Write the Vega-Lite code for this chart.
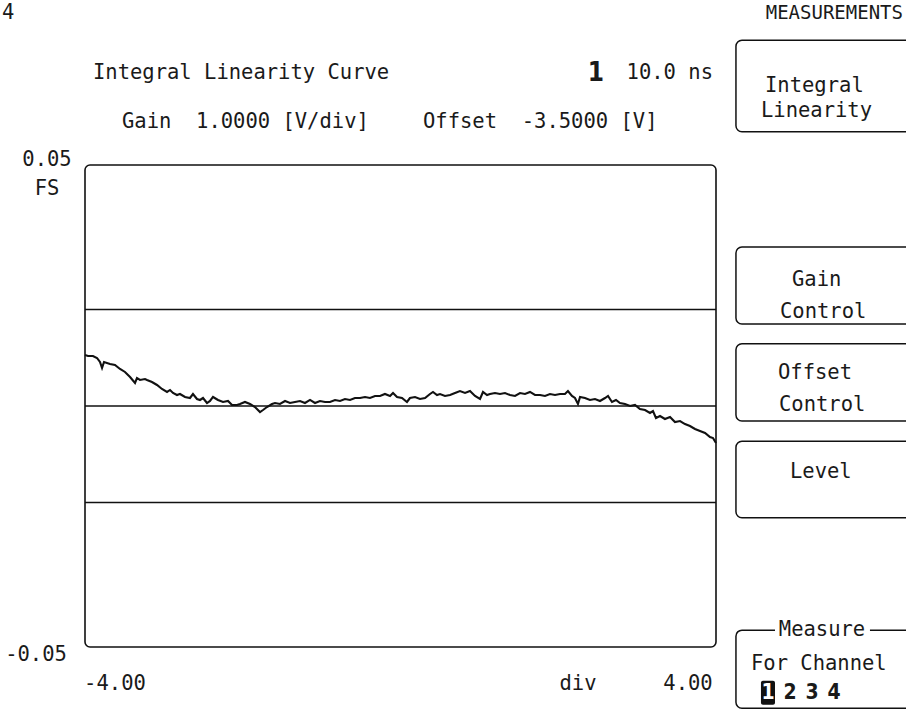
{
  "$schema": "https://vega.github.io/schema/vega-lite/v6.json",
  "autosize": {"type": "none"},
  "width": 631,
  "height": 482,
  "padding": {"left": 85, "top": 165, "right": 190, "bottom": 64},
  "background": "white",
  "data": {"values": [{}]},
  "config": {
    "view": {"stroke": "#111", "strokeWidth": 1.6, "cornerRadius": 5, "fill": "white"},
    "axis": {"disable": true},
    "text": {"font": "DejaVu Sans Mono", "fontSize": 20.5, "color": "#1a1a1a", "baseline": "middle"}
  },
  "layer": [
    {
      "mark": {"type": "rule", "color": "#111", "strokeWidth": 1.5},
      "encoding": {"y": {"datum": 0.02, "type": "quantitative", "scale": {"domain": [-0.05, 0.05], "nice": false, "zero": false}}}
    },
    {
      "mark": {"type": "rule", "color": "#111", "strokeWidth": 1.5},
      "encoding": {"y": {"datum": 0, "type": "quantitative", "scale": {"domain": [-0.05, 0.05], "nice": false, "zero": false}}}
    },
    {
      "mark": {"type": "rule", "color": "#111", "strokeWidth": 1.5},
      "encoding": {"y": {"datum": -0.02, "type": "quantitative", "scale": {"domain": [-0.05, 0.05], "nice": false, "zero": false}}}
    },
    {
      "data": {"values": [
        {"div": -4.000, "fs": 0.01058}, {"div": -3.962, "fs": 0.01038}, {"div": -3.899, "fs": 0.01038}, {"div": -3.848, "fs": 0.00996},
        {"div": -3.810, "fs": 0.00913}, {"div": -3.784, "fs": 0.00789}, {"div": -3.759, "fs": 0.00913}, {"div": -3.683, "fs": 0.00872},
        {"div": -3.620, "fs": 0.00851}, {"div": -3.556, "fs": 0.00768}, {"div": -3.493, "fs": 0.00706}, {"div": -3.429, "fs": 0.00602},
        {"div": -3.366, "fs": 0.00477}, {"div": -3.341, "fs": 0.00581}, {"div": -3.303, "fs": 0.00540}, {"div": -3.239, "fs": 0.00560},
        {"div": -3.214, "fs": 0.00540}, {"div": -3.151, "fs": 0.00498}, {"div": -3.087, "fs": 0.00436}, {"div": -3.024, "fs": 0.00353},
        {"div": -2.960, "fs": 0.00291}, {"div": -2.922, "fs": 0.00332}, {"div": -2.884, "fs": 0.00270}, {"div": -2.834, "fs": 0.00228},
        {"div": -2.796, "fs": 0.00249}, {"div": -2.732, "fs": 0.00187}, {"div": -2.669, "fs": 0.00166}, {"div": -2.631, "fs": 0.00249},
        {"div": -2.580, "fs": 0.00145}, {"div": -2.542, "fs": 0.00125}, {"div": -2.504, "fs": 0.00166}, {"div": -2.453, "fs": 0.00062},
        {"div": -2.415, "fs": 0.00104}, {"div": -2.377, "fs": 0.00187}, {"div": -2.314, "fs": 0.00125}, {"div": -2.250, "fs": 0.00083},
        {"div": -2.187, "fs": 0.00104}, {"div": -2.136, "fs": 0.00021}, {"div": -2.073, "fs": 0.00021}, {"div": -2.035, "fs": 0.00042},
        {"div": -1.972, "fs": 0.00083}, {"div": -1.908, "fs": 0.00042}, {"div": -1.845, "fs": -0.00021}, {"div": -1.781, "fs": -0.00125},
        {"div": -1.743, "fs": -0.00083}, {"div": -1.693, "fs": -0.00021}, {"div": -1.629, "fs": 0.00042}, {"div": -1.591, "fs": 0.00062},
        {"div": -1.528, "fs": 0.00042}, {"div": -1.464, "fs": 0.00104}, {"div": -1.401, "fs": 0.00062}, {"div": -1.338, "fs": 0.00083},
        {"div": -1.274, "fs": 0.00104}, {"div": -1.211, "fs": 0.00062}, {"div": -1.147, "fs": 0.00125}, {"div": -1.084, "fs": 0.00062},
        {"div": -1.021, "fs": 0.00104}, {"div": -0.957, "fs": 0.00083}, {"div": -0.894, "fs": 0.00083}, {"div": -0.830, "fs": 0.00125},
        {"div": -0.767, "fs": 0.00104}, {"div": -0.704, "fs": 0.00145}, {"div": -0.640, "fs": 0.00125}, {"div": -0.577, "fs": 0.00166},
        {"div": -0.513, "fs": 0.00166}, {"div": -0.450, "fs": 0.00187}, {"div": -0.387, "fs": 0.00166}, {"div": -0.323, "fs": 0.00208},
        {"div": -0.260, "fs": 0.00208}, {"div": -0.197, "fs": 0.00249}, {"div": -0.133, "fs": 0.00208}, {"div": -0.095, "fs": 0.00270},
        {"div": -0.044, "fs": 0.00187}, {"div": 0.019, "fs": 0.00166}, {"div": 0.082, "fs": 0.00083}, {"div": 0.120, "fs": 0.00166},
        {"div": 0.184, "fs": 0.00187}, {"div": 0.247, "fs": 0.00145}, {"div": 0.311, "fs": 0.00166}, {"div": 0.374, "fs": 0.00249},
        {"div": 0.412, "fs": 0.00291}, {"div": 0.463, "fs": 0.00228}, {"div": 0.501, "fs": 0.00249}, {"div": 0.564, "fs": 0.00208},
        {"div": 0.628, "fs": 0.00228}, {"div": 0.691, "fs": 0.00270}, {"div": 0.754, "fs": 0.00311}, {"div": 0.818, "fs": 0.00270},
        {"div": 0.881, "fs": 0.00311}, {"div": 0.945, "fs": 0.00208}, {"div": 1.008, "fs": 0.00145}, {"div": 1.046, "fs": 0.00291},
        {"div": 1.097, "fs": 0.00228}, {"div": 1.135, "fs": 0.00249}, {"div": 1.198, "fs": 0.00270}, {"div": 1.261, "fs": 0.00249},
        {"div": 1.325, "fs": 0.00270}, {"div": 1.388, "fs": 0.00228}, {"div": 1.452, "fs": 0.00208}, {"div": 1.515, "fs": 0.00270},
        {"div": 1.578, "fs": 0.00249}, {"div": 1.642, "fs": 0.00291}, {"div": 1.705, "fs": 0.00228}, {"div": 1.769, "fs": 0.00228},
        {"div": 1.832, "fs": 0.00208}, {"div": 1.895, "fs": 0.00249}, {"div": 1.959, "fs": 0.00228}, {"div": 2.022, "fs": 0.00249},
        {"div": 2.085, "fs": 0.00249}, {"div": 2.123, "fs": 0.00311}, {"div": 2.174, "fs": 0.00208}, {"div": 2.212, "fs": 0.00166},
        {"div": 2.250, "fs": 0.00042}, {"div": 2.276, "fs": 0.00187}, {"div": 2.339, "fs": 0.00166}, {"div": 2.402, "fs": 0.00125},
        {"div": 2.466, "fs": 0.00145}, {"div": 2.529, "fs": 0.00104}, {"div": 2.593, "fs": 0.00166}, {"div": 2.631, "fs": 0.00208},
        {"div": 2.681, "fs": 0.00083}, {"div": 2.732, "fs": 0.00125}, {"div": 2.783, "fs": 0.00062}, {"div": 2.846, "fs": 0.00042},
        {"div": 2.910, "fs": 0.0}, {"div": 2.973, "fs": 0.00021}, {"div": 3.036, "fs": -0.00062}, {"div": 3.100, "fs": -0.00083},
        {"div": 3.163, "fs": -0.00145}, {"div": 3.201, "fs": -0.00104}, {"div": 3.239, "fs": -0.00249}, {"div": 3.290, "fs": -0.00208},
        {"div": 3.353, "fs": -0.00270}, {"div": 3.417, "fs": -0.00228}, {"div": 3.480, "fs": -0.00332}, {"div": 3.544, "fs": -0.00311},
        {"div": 3.607, "fs": -0.00374}, {"div": 3.670, "fs": -0.00415}, {"div": 3.734, "fs": -0.00477}, {"div": 3.797, "fs": -0.00519},
        {"div": 3.861, "fs": -0.00560}, {"div": 3.924, "fs": -0.00643}, {"div": 3.962, "fs": -0.00664}, {"div": 4.000, "fs": -0.00768}
      ]},
      "mark": {"type": "line", "color": "#111", "strokeWidth": 2.1, "interpolate": "linear", "strokeJoin": "miter"},
      "encoding": {
        "x": {"field": "div", "type": "quantitative", "scale": {"domain": [-4, 4], "nice": false, "zero": false}, "axis": null},
        "y": {"field": "fs", "type": "quantitative", "scale": {"domain": [-0.05, 0.05], "nice": false, "zero": false}, "axis": null}
      }
    },
    {
      "mark": {"type": "text", "text": "4", "align": "left"},
      "encoding": {"x": {"datum": -5.052, "type": "quantitative", "scale": {"domain": [-4, 4], "nice": false, "zero": false}}, "y": {"datum": 0.0815, "type": "quantitative", "scale": {"domain": [-0.05, 0.05], "nice": false, "zero": false}}}
    },
    {
      "mark": {"type": "text", "text": "MEASUREMENTS", "align": "right", "fontSize": 19},
      "encoding": {"x": {"datum": 6.371, "type": "quantitative", "scale": {"domain": [-4, 4], "nice": false, "zero": false}}, "y": {"datum": 0.0815, "type": "quantitative", "scale": {"domain": [-0.05, 0.05], "nice": false, "zero": false}}}
    },
    {
      "mark": {"type": "text", "text": "Integral Linearity Curve", "align": "left"},
      "encoding": {"x": {"datum": -3.899, "type": "quantitative", "scale": {"domain": [-4, 4], "nice": false, "zero": false}}, "y": {"datum": 0.0691, "type": "quantitative", "scale": {"domain": [-0.05, 0.05], "nice": false, "zero": false}}}
    },
    {
      "mark": {"type": "text", "text": "1", "align": "center", "font": "DejaVu Sans Condensed", "fontWeight": "bold", "fontSize": 26},
      "encoding": {"x": {"datum": 2.478, "type": "quantitative", "scale": {"domain": [-4, 4], "nice": false, "zero": false}}, "y": {"datum": 0.0691, "type": "quantitative", "scale": {"domain": [-0.05, 0.05], "nice": false, "zero": false}}}
    },
    {
      "mark": {"type": "text", "text": "10.0 ns", "align": "right"},
      "encoding": {"x": {"datum": 3.962, "type": "quantitative", "scale": {"domain": [-4, 4], "nice": false, "zero": false}}, "y": {"datum": 0.0691, "type": "quantitative", "scale": {"domain": [-0.05, 0.05], "nice": false, "zero": false}}}
    },
    {
      "mark": {"type": "text", "text": "Gain\u00a0\u00a01.0000\u00a0[V/div]", "align": "left"},
      "encoding": {"x": {"datum": -3.531, "type": "quantitative", "scale": {"domain": [-4, 4], "nice": false, "zero": false}}, "y": {"datum": 0.0589, "type": "quantitative", "scale": {"domain": [-0.05, 0.05], "nice": false, "zero": false}}}
    },
    {
      "mark": {"type": "text", "text": "Offset\u00a0\u00a0-3.5000\u00a0[V]", "align": "left"},
      "encoding": {"x": {"datum": 0.285, "type": "quantitative", "scale": {"domain": [-4, 4], "nice": false, "zero": false}}, "y": {"datum": 0.0589, "type": "quantitative", "scale": {"domain": [-0.05, 0.05], "nice": false, "zero": false}}}
    },
    {
      "mark": {"type": "text", "text": "0.05", "align": "center"},
      "encoding": {"x": {"datum": -4.482, "type": "quantitative", "scale": {"domain": [-4, 4], "nice": false, "zero": false}}, "y": {"datum": 0.051, "type": "quantitative", "scale": {"domain": [-0.05, 0.05], "nice": false, "zero": false}}}
    },
    {
      "mark": {"type": "text", "text": "FS", "align": "center"},
      "encoding": {"x": {"datum": -4.482, "type": "quantitative", "scale": {"domain": [-4, 4], "nice": false, "zero": false}}, "y": {"datum": 0.045, "type": "quantitative", "scale": {"domain": [-0.05, 0.05], "nice": false, "zero": false}}}
    },
    {
      "mark": {"type": "text", "text": "-0.05", "align": "center"},
      "encoding": {"x": {"datum": -4.621, "type": "quantitative", "scale": {"domain": [-4, 4], "nice": false, "zero": false}}, "y": {"datum": -0.0517, "type": "quantitative", "scale": {"domain": [-0.05, 0.05], "nice": false, "zero": false}}}
    },
    {
      "mark": {"type": "text", "text": "-4.00", "align": "center"},
      "encoding": {"x": {"datum": -3.62, "type": "quantitative", "scale": {"domain": [-4, 4], "nice": false, "zero": false}}, "y": {"datum": -0.0577, "type": "quantitative", "scale": {"domain": [-0.05, 0.05], "nice": false, "zero": false}}}
    },
    {
      "mark": {"type": "text", "text": "div", "align": "center"},
      "encoding": {"x": {"datum": 2.25, "type": "quantitative", "scale": {"domain": [-4, 4], "nice": false, "zero": false}}, "y": {"datum": -0.0577, "type": "quantitative", "scale": {"domain": [-0.05, 0.05], "nice": false, "zero": false}}}
    },
    {
      "mark": {"type": "text", "text": "4.00", "align": "center"},
      "encoding": {"x": {"datum": 3.645, "type": "quantitative", "scale": {"domain": [-4, 4], "nice": false, "zero": false}}, "y": {"datum": -0.0577, "type": "quantitative", "scale": {"domain": [-0.05, 0.05], "nice": false, "zero": false}}}
    },
    {
      "mark": {"type": "rect", "fill": "white", "stroke": "#111", "strokeWidth": 1.5, "cornerRadius": 6},
      "encoding": {"x": {"datum": 4.253, "type": "quantitative", "scale": {"domain": [-4, 4], "nice": false, "zero": false}}, "x2": {"datum": 6.586}, "y": {"datum": 0.0759, "type": "quantitative", "scale": {"domain": [-0.05, 0.05], "nice": false, "zero": false}}, "y2": {"datum": 0.0569}}
    },
    {
      "mark": {"type": "rect", "fill": "white", "stroke": "#111", "strokeWidth": 1.5, "cornerRadius": 6},
      "encoding": {"x": {"datum": 4.253, "type": "quantitative", "scale": {"domain": [-4, 4], "nice": false, "zero": false}}, "x2": {"datum": 6.586}, "y": {"datum": 0.033, "type": "quantitative", "scale": {"domain": [-0.05, 0.05], "nice": false, "zero": false}}, "y2": {"datum": 0.017}}
    },
    {
      "mark": {"type": "rect", "fill": "white", "stroke": "#111", "strokeWidth": 1.5, "cornerRadius": 6},
      "encoding": {"x": {"datum": 4.253, "type": "quantitative", "scale": {"domain": [-4, 4], "nice": false, "zero": false}}, "x2": {"datum": 6.586}, "y": {"datum": 0.0129, "type": "quantitative", "scale": {"domain": [-0.05, 0.05], "nice": false, "zero": false}}, "y2": {"datum": -0.0031}}
    },
    {
      "mark": {"type": "rect", "fill": "white", "stroke": "#111", "strokeWidth": 1.5, "cornerRadius": 6},
      "encoding": {"x": {"datum": 4.253, "type": "quantitative", "scale": {"domain": [-4, 4], "nice": false, "zero": false}}, "x2": {"datum": 6.586}, "y": {"datum": -0.0073, "type": "quantitative", "scale": {"domain": [-0.05, 0.05], "nice": false, "zero": false}}, "y2": {"datum": -0.0232}}
    },
    {
      "mark": {"type": "rect", "fill": "white", "stroke": "#111", "strokeWidth": 1.5, "cornerRadius": 6},
      "encoding": {"x": {"datum": 4.253, "type": "quantitative", "scale": {"domain": [-4, 4], "nice": false, "zero": false}}, "x2": {"datum": 6.586}, "y": {"datum": -0.0465, "type": "quantitative", "scale": {"domain": [-0.05, 0.05], "nice": false, "zero": false}}, "y2": {"datum": -0.0627}}
    },
    {
      "mark": {"type": "rect", "fill": "white"},
      "encoding": {"x": {"datum": 4.748, "type": "quantitative", "scale": {"domain": [-4, 4], "nice": false, "zero": false}}, "x2": {"datum": 5.952}, "y": {"datum": -0.0444, "type": "quantitative", "scale": {"domain": [-0.05, 0.05], "nice": false, "zero": false}}, "y2": {"datum": -0.0486}}
    },
    {
      "mark": {"type": "text", "text": "Integral", "align": "left"},
      "encoding": {"x": {"datum": 4.621, "type": "quantitative", "scale": {"domain": [-4, 4], "nice": false, "zero": false}}, "y": {"datum": 0.0664, "type": "quantitative", "scale": {"domain": [-0.05, 0.05], "nice": false, "zero": false}}}
    },
    {
      "mark": {"type": "text", "text": "Linearity", "align": "left"},
      "encoding": {"x": {"datum": 4.57, "type": "quantitative", "scale": {"domain": [-4, 4], "nice": false, "zero": false}}, "y": {"datum": 0.0612, "type": "quantitative", "scale": {"domain": [-0.05, 0.05], "nice": false, "zero": false}}}
    },
    {
      "mark": {"type": "text", "text": "Gain", "align": "left"},
      "encoding": {"x": {"datum": 4.963, "type": "quantitative", "scale": {"domain": [-4, 4], "nice": false, "zero": false}}, "y": {"datum": 0.0262, "type": "quantitative", "scale": {"domain": [-0.05, 0.05], "nice": false, "zero": false}}}
    },
    {
      "mark": {"type": "text", "text": "Control", "align": "left"},
      "encoding": {"x": {"datum": 4.811, "type": "quantitative", "scale": {"domain": [-4, 4], "nice": false, "zero": false}}, "y": {"datum": 0.0195, "type": "quantitative", "scale": {"domain": [-0.05, 0.05], "nice": false, "zero": false}}}
    },
    {
      "mark": {"type": "text", "text": "Offset", "align": "left"},
      "encoding": {"x": {"datum": 4.786, "type": "quantitative", "scale": {"domain": [-4, 4], "nice": false, "zero": false}}, "y": {"datum": 0.0069, "type": "quantitative", "scale": {"domain": [-0.05, 0.05], "nice": false, "zero": false}}}
    },
    {
      "mark": {"type": "text", "text": "Control", "align": "left"},
      "encoding": {"x": {"datum": 4.798, "type": "quantitative", "scale": {"domain": [-4, 4], "nice": false, "zero": false}}, "y": {"datum": 0.0003, "type": "quantitative", "scale": {"domain": [-0.05, 0.05], "nice": false, "zero": false}}}
    },
    {
      "mark": {"type": "text", "text": "Level", "align": "left"},
      "encoding": {"x": {"datum": 4.938, "type": "quantitative", "scale": {"domain": [-4, 4], "nice": false, "zero": false}}, "y": {"datum": -0.0137, "type": "quantitative", "scale": {"domain": [-0.05, 0.05], "nice": false, "zero": false}}}
    },
    {
      "mark": {"type": "text", "text": "Measure", "align": "center"},
      "encoding": {"x": {"datum": 5.344, "type": "quantitative", "scale": {"domain": [-4, 4], "nice": false, "zero": false}}, "y": {"datum": -0.0465, "type": "quantitative", "scale": {"domain": [-0.05, 0.05], "nice": false, "zero": false}}}
    },
    {
      "mark": {"type": "text", "text": "For Channel", "align": "left"},
      "encoding": {"x": {"datum": 4.443, "type": "quantitative", "scale": {"domain": [-4, 4], "nice": false, "zero": false}}, "y": {"datum": -0.0536, "type": "quantitative", "scale": {"domain": [-0.05, 0.05], "nice": false, "zero": false}}}
    },
    {
      "mark": {"type": "rect", "fill": "#111", "cornerRadius": 2},
      "encoding": {"x": {"datum": 4.57, "type": "quantitative", "scale": {"domain": [-4, 4], "nice": false, "zero": false}}, "x2": {"datum": 4.748}, "y": {"datum": -0.0570, "type": "quantitative", "scale": {"domain": [-0.05, 0.05], "nice": false, "zero": false}}, "y2": {"datum": -0.0620}}
    },
    {
      "mark": {"type": "text", "text": "1", "align": "center", "font": "DejaVu Sans Condensed", "fontWeight": "bold", "fontSize": 21, "color": "white"},
      "encoding": {"x": {"datum": 4.659, "type": "quantitative", "scale": {"domain": [-4, 4], "nice": false, "zero": false}}, "y": {"datum": -0.0595, "type": "quantitative", "scale": {"domain": [-0.05, 0.05], "nice": false, "zero": false}}}
    },
    {
      "mark": {"type": "text", "text": "2", "align": "center", "font": "DejaVu Sans Condensed", "fontWeight": "bold", "fontSize": 21},
      "encoding": {"x": {"datum": 4.938, "type": "quantitative", "scale": {"domain": [-4, 4], "nice": false, "zero": false}}, "y": {"datum": -0.0595, "type": "quantitative", "scale": {"domain": [-0.05, 0.05], "nice": false, "zero": false}}}
    },
    {
      "mark": {"type": "text", "text": "3", "align": "center", "font": "DejaVu Sans Condensed", "fontWeight": "bold", "fontSize": 21},
      "encoding": {"x": {"datum": 5.217, "type": "quantitative", "scale": {"domain": [-4, 4], "nice": false, "zero": false}}, "y": {"datum": -0.0595, "type": "quantitative", "scale": {"domain": [-0.05, 0.05], "nice": false, "zero": false}}}
    },
    {
      "mark": {"type": "text", "text": "4", "align": "center", "font": "DejaVu Sans Condensed", "fontWeight": "bold", "fontSize": 21},
      "encoding": {"x": {"datum": 5.496, "type": "quantitative", "scale": {"domain": [-4, 4], "nice": false, "zero": false}}, "y": {"datum": -0.0595, "type": "quantitative", "scale": {"domain": [-0.05, 0.05], "nice": false, "zero": false}}}
    }
  ]
}
